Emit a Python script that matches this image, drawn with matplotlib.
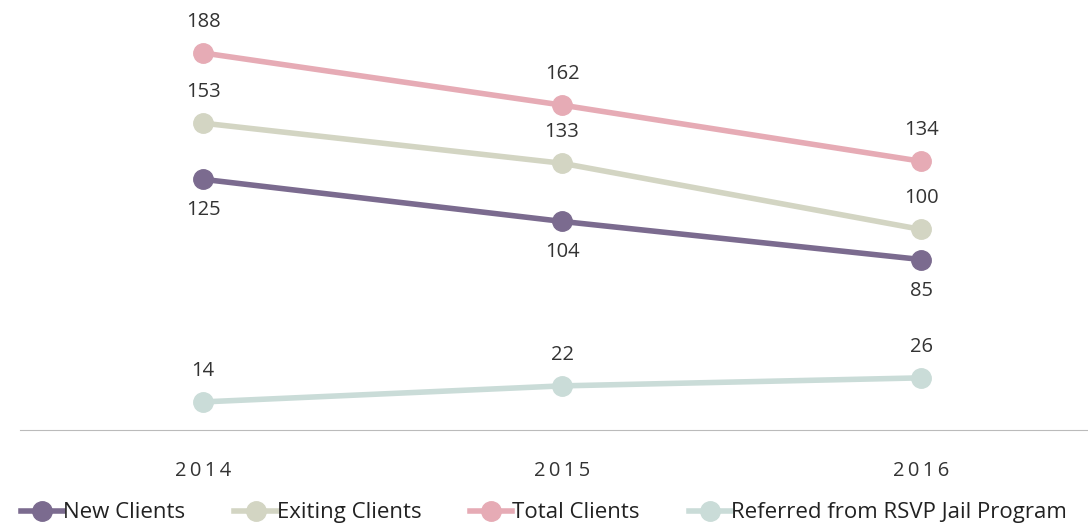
import numpy as np
import matplotlib.pyplot as plt
from matplotlib.lines import Line2D

years = ["2014", "2015", "2016"]
new_clients = [125, 104, 85]
exiting_clients = [153, 133, 100]
total_clients = [188, 162, 134]
referred = [14, 22, 26]

names = ["New Clients", "Exiting Clients", "Total Clients", "Referred from RSVP Jail Program"]
series = [new_clients, exiting_clients, total_clients, referred]
colors = ["#7b6b8f", "#d3d5c3", "#e6abb5", "#cadcd8"]
# label above (+) or below (-) each point
where = [[-1, -1, -1], [1, 1, 1], [1, 1, 1], [1, 1, 1]]

plt.rcParams['font.family'] = ['Open Sans', 'DejaVu Sans']

fig = plt.figure(figsize=(10.88, 5.25), dpi=100)
ax = fig.add_axes([20 / 1088, 95 / 525, 1068 / 1088, 430 / 525])
x = np.arange(len(years))

for vals, c, w in zip(series, colors, where):
    ax.plot(x, vals, "-o", color=c, lw=4, ms=14, zorder=3)
    for xi, v, s in zip(x, vals, w):
        ax.annotate(str(v), (xi, v), xytext=(0, 31 * s), textcoords="offset pixels",
                    ha="center", va="center", fontsize=14.5, color="#333333")

ax.set_xlim(-0.51, 2.465)
ax.set_ylim(0, 214.4)
ax.set_xticks(x)
ax.set_xticklabels(["\u2009".join(y) for y in years], fontsize=14.5, color="#333333")
ax.tick_params(axis="x", length=0, pad=22)
ax.set_yticks([])
for sp in ["top", "left", "right"]:
    ax.spines[sp].set_visible(False)
ax.spines["bottom"].set_color("#bbbbbb")
ax.spines["bottom"].set_linewidth(0.8)

handles = [Line2D([], [], color=c, lw=4, marker="o", ms=14) for c in colors]
fig.legend(handles, names, loc="lower center", bbox_to_anchor=(0.5, -0.035), ncol=4,
           frameon=False, fontsize=16, handlelength=1.9, handletextpad=0.0,
           columnspacing=2.2, labelcolor="#222222")

plt.savefig("out.png", dpi=100)
